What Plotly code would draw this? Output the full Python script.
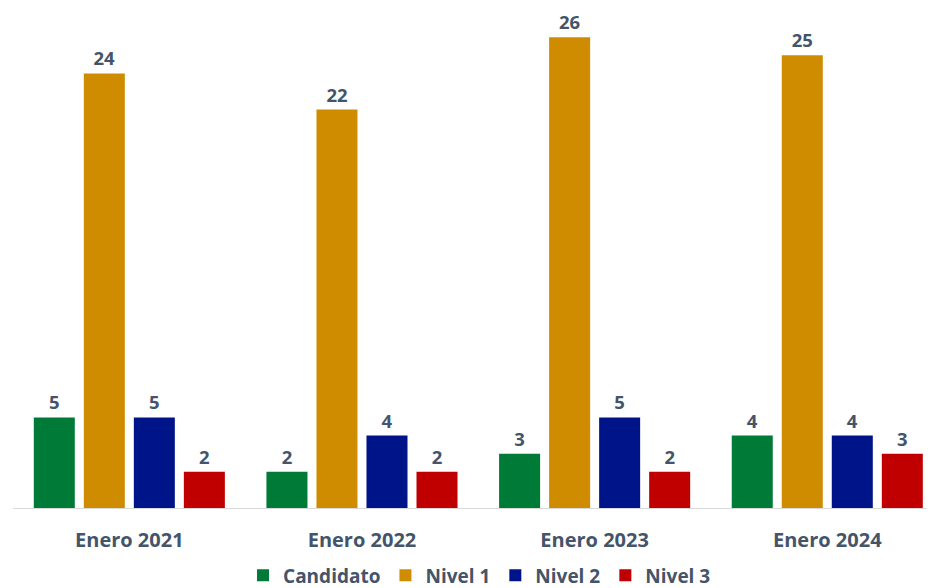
import plotly.graph_objects as go

# Data
periodos = ['Enero 2021', 'Enero 2022', 'Enero 2023', 'Enero 2024']
candidato = [5, 2, 3, 4]
nivel_1 = [24, 22, 26, 25]
nivel_2 = [5, 4, 5, 4]
nivel_3 = [2, 2, 2, 3]

series = [
    ('Candidato', candidato, '#007A37'),
    ('Nivel 1', nivel_1, '#CF8C00'),
    ('Nivel 2', nivel_2, '#00148A'),
    ('Nivel 3', nivel_3, '#C00000'),
]

txt_color = '#44546A'
font_fam = 'Open Sans, Noto Sans, sans-serif'

fig = go.Figure()
for name, vals, color in series:
    fig.add_trace(go.Bar(
        x=periodos, y=vals, name=name,
        marker=dict(color=color, line=dict(width=0)),
        text=vals, textposition='outside', cliponaxis=False,
        textfont=dict(size=18.5, color=txt_color, family=font_fam, weight='bold'),
    ))

# the page body adds an 8px offset, margins compensate for it
fig.update_layout(
    width=935, height=588,
    margin=dict(l=5, r=8, t=2, b=88),
    barmode='group', bargap=0.14, bargroupgap=0.18,
    plot_bgcolor='white', paper_bgcolor='white',
    font=dict(family=font_fam, color=txt_color),
    showlegend=True,
    legend=dict(
        orientation='h', xref='paper', x=0.506, xanchor='center',
        yref='container', y=0.035, yanchor='middle',
        font=dict(size=19, color=txt_color, family=font_fam, weight='bold'),
        traceorder='normal', itemclick=False,
    ),
)
fig.update_xaxes(
    type='category', range=[-0.5, 3.463], automargin=False,
    showline=True, linecolor='#D9D9D9', linewidth=1,
    showgrid=False, ticks='', ticklabelstandoff=14,
    tickfont=dict(size=20, color=txt_color, family=font_fam, weight='bold'),
)
fig.update_yaxes(
    range=[0, 27.5], visible=False, showgrid=False, zeroline=False, automargin=False,
)

fig.write_html("out.html")
